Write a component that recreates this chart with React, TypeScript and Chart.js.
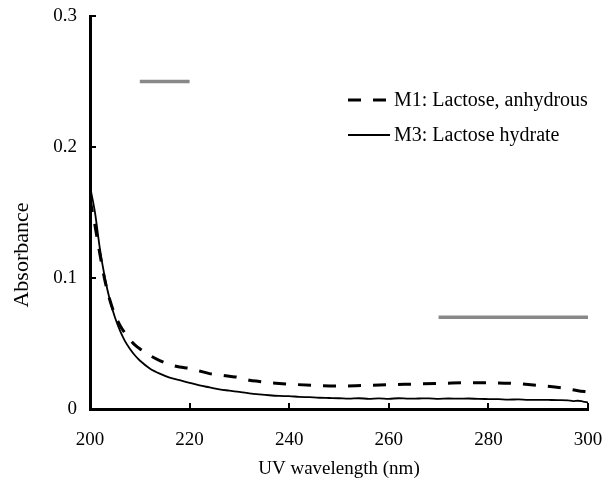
import React, { useEffect, useRef } from "react";
import { Chart, registerables } from "chart.js";

Chart.register(...registerables);

// M1: Lactose, anhydrous (dashed)
const m1Wavelength = [200, 201, 202, 203, 204, 205, 206, 207, 208, 209, 210, 212, 214, 216, 218, 220, 222, 224, 226, 228, 230, 232, 234, 236, 238, 240, 245, 250, 255, 260, 265, 270, 275, 280, 285, 290, 295, 298, 300];
const m1Absorbance = [0.160, 0.140, 0.118, 0.098, 0.083, 0.072, 0.064, 0.058, 0.053, 0.049, 0.046, 0.041, 0.037, 0.034, 0.032, 0.031, 0.029, 0.027, 0.026, 0.025, 0.024, 0.022, 0.021, 0.020, 0.0195, 0.019, 0.018, 0.0175, 0.018, 0.0185, 0.019, 0.0195, 0.020, 0.020, 0.0195, 0.018, 0.016, 0.014, 0.013];

// M3: Lactose hydrate (solid)
const m3Wavelength = [200, 201, 202, 203, 204, 205, 206, 207, 208, 209, 210, 212, 214, 216, 218, 220, 222, 224, 226, 228, 230, 232, 234, 236, 238, 240, 242, 244, 246, 248, 250, 252, 254, 256, 258, 260, 262, 264, 266, 268, 270, 272, 274, 276, 278, 280, 282, 284, 286, 288, 290, 292, 294, 296, 297, 298, 299, 300];
const m3Absorbance = [0.170, 0.150, 0.122, 0.100, 0.083, 0.070, 0.060, 0.052, 0.046, 0.041, 0.037, 0.031, 0.027, 0.024, 0.022, 0.020, 0.018, 0.0165, 0.015, 0.014, 0.013, 0.012, 0.0112, 0.0105, 0.010, 0.0098, 0.0093, 0.0090, 0.0086, 0.0084, 0.0082, 0.0079, 0.0082, 0.0078, 0.0081, 0.0078, 0.0082, 0.0079, 0.0080, 0.0081, 0.0078, 0.0080, 0.0079, 0.0080, 0.0077, 0.0076, 0.0075, 0.0072, 0.0073, 0.0070, 0.0070, 0.0069, 0.0068, 0.0066, 0.0060, 0.0063, 0.0057, 0.0050];

// Grey reference bars
const bar1Wavelength = [210, 220];
const bar1Level = [0.25, 0.25];
const bar2Wavelength = [270, 300];
const bar2Level = [0.07, 0.07];

const xTicks = [200, 220, 240, 260, 280, 300];
const yTicks = [0, 0.1, 0.2, 0.3];

const seriesLabels = ["M1: Lactose, anhydrous", "M3: Lactose hydrate"];
const xTitle = "UV wavelength (nm)";
const yTitle = "Absorbance";

const FONT = "'Liberation Serif', 'Times New Roman', serif";

const zip = (xs: number[], ys: number[]) => xs.map((x, i) => ({ x, y: ys[i] }));

const decorPlugin = {
  id: "decor",
  afterDraw(chart: any) {
    const { ctx, chartArea } = chart;
    const xs = chart.scales.x;
    const ys = chart.scales.y;
    ctx.save();
    // inward ticks
    ctx.strokeStyle = "#000";
    ctx.lineWidth = 2;
    ctx.beginPath();
    xTicks.forEach((t) => {
      const px = Math.round(xs.getPixelForValue(t));
      ctx.moveTo(px, chartArea.bottom);
      ctx.lineTo(px, chartArea.bottom - 6);
    });
    yTicks.forEach((t) => {
      const py = Math.round(ys.getPixelForValue(t));
      ctx.moveTo(chartArea.left, py);
      ctx.lineTo(chartArea.left + 6, py);
    });
    ctx.stroke();

    // y title
    ctx.fillStyle = "#000";
    ctx.font = `22px ${FONT}`;
    ctx.textAlign = "center";
    ctx.textBaseline = "middle";
    ctx.translate(22, 255);
    ctx.rotate(-Math.PI / 2);
    ctx.fillText(yTitle, 0, 0);
    ctx.restore();

    // legend
    ctx.save();
    const lx = chartArea.left + 258;
    const ly1 = chartArea.top + 84;
    const ly2 = chartArea.top + 119;
    ctx.strokeStyle = "#000";
    ctx.lineWidth = 3;
    ctx.setLineDash([13, 12]);
    ctx.beginPath();
    ctx.moveTo(lx, ly1);
    ctx.lineTo(lx + 40, ly1);
    ctx.stroke();
    ctx.setLineDash([]);
    ctx.lineWidth = 1.8;
    ctx.beginPath();
    ctx.moveTo(lx, ly2);
    ctx.lineTo(lx + 42, ly2);
    ctx.stroke();
    ctx.fillStyle = "#000";
    ctx.font = `20px ${FONT}`;
    ctx.textAlign = "left";
    ctx.textBaseline = "middle";
    ctx.fillText(seriesLabels[0], lx + 46, ly1 + 1);
    ctx.fillText(seriesLabels[1], lx + 46, ly2 + 1);
    ctx.restore();
  },
};

export default function App() {
  const canvasRef = useRef<HTMLCanvasElement | null>(null);

  useEffect(() => {
    document.body.style.margin = "0";
    const canvas = canvasRef.current;
    if (!canvas) return;
    const chart = new Chart(canvas, {
      type: "line",
      data: {
        datasets: [
          {
            label: seriesLabels[0],
            data: zip(m1Wavelength, m1Absorbance),
            borderColor: "#000",
            borderWidth: 3,
            borderDash: [13, 12],
            pointRadius: 0,
            fill: false,
            tension: 0.4,
            cubicInterpolationMode: "monotone",
          },
          {
            label: seriesLabels[1],
            data: zip(m3Wavelength, m3Absorbance),
            borderColor: "#000",
            borderWidth: 1.8,
            pointRadius: 0,
            fill: false,
            tension: 0.3,
            cubicInterpolationMode: "monotone",
          },
          {
            label: "bar1",
            data: zip(bar1Wavelength, bar1Level),
            borderColor: "#888888",
            borderWidth: 3.5,
            pointRadius: 0,
            fill: false,
          },
          {
            label: "bar2",
            data: zip(bar2Wavelength, bar2Level),
            borderColor: "#888888",
            borderWidth: 3.5,
            pointRadius: 0,
            fill: false,
          },
        ],
      },
      options: {
        responsive: false,
        animation: false,
        layout: { padding: { left: 0, top: 16, right: 18, bottom: 0 } },
        plugins: { legend: { display: false }, tooltip: { enabled: false } },
        scales: {
          x: {
            type: "linear",
            min: 200,
            max: 300,
            afterFit: (s: any) => {
              s.height = 74;
              s.paddingLeft = 0;
              s.paddingRight = 0;
            },
            afterBuildTicks: (s: any) => {
              s.ticks = xTicks.map((v) => ({ value: v }));
            },
            grid: { display: false, drawTicks: false },
            border: { display: true, color: "#000", width: 3 },
            ticks: {
              color: "#000",
              padding: 20,
              font: { family: FONT, size: 19 },
              maxRotation: 0,
              callback: (v: any) => String(v),
            },
            title: {
              display: true,
              text: xTitle,
              color: "#000",
              font: { family: FONT, size: 19 },
              padding: { top: 0, bottom: 3 },
            },
          },
          y: {
            type: "linear",
            min: 0,
            max: 0.3,
            afterFit: (s: any) => {
              s.width = 90;
              s.paddingTop = 0;
              s.paddingBottom = 0;
            },
            afterBuildTicks: (s: any) => {
              s.ticks = yTicks.map((v) => ({ value: v }));
            },
            grid: { display: false, drawTicks: false },
            border: { display: true, color: "#000", width: 3 },
            ticks: {
              color: "#000",
              padding: 13,
              font: { family: FONT, size: 19 },
              callback: (v: any) => String(Number(Number(v).toFixed(1))),
            },
          },
        },
      },
      plugins: [decorPlugin],
    });
    return () => chart.destroy();
  }, []);

  return (
    <div style={{ width: 606, height: 483, position: "relative" }}>
      <canvas ref={canvasRef} width={606} height={483} />
    </div>
  );
}
